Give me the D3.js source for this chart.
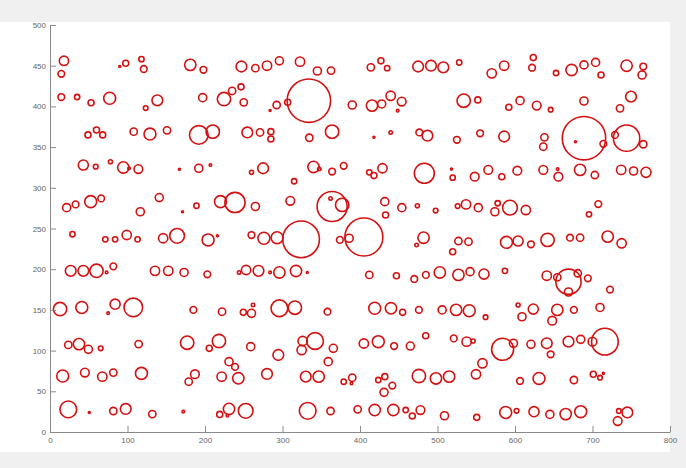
<!DOCTYPE html>
<html>
<head>
<meta charset="utf-8">
<script src="https://cdn.jsdelivr.net/npm/d3@7"></script>
<style>
html,body{margin:0;padding:0;background:#f0f0f0;}
svg{display:block;}
</style>
</head>
<body>
<svg id="chart" width="686" height="468"></svg>
<script>
// circle centres (x, y) and radii (x-axis units)
const cx = [
18,14.6,14.6,35,53,77,49,60,68,108,129,151,123.5,138.5,97.7,90,118,121,181,
198,247,265,280,296,322.6,345,362.6,197,224.5,235,246.5,250,292.5,284,306.7,334,390,192,210,254.6,271,285,285,334.6,364,
414,427,435,475,491.6,507.5,528,570,586,415.5,428,439.6,453.8,448.6,533.8,552,592,606.5,418,439.6,476.5,487,525,555,586,
623.6,622,653,673,689,704,711,744,765.5,764,628,646,689,735.5,749.7,638,636.5,689,678,714,744,729,765.5,
43,59,78,94.6,102,114,167,192,21.5,33,52.5,66,116.5,141,171,189,29,71.4,84,99,113,146,164,26.7,43,60,73,81.7,135.5,152.6,173,
207,260,275,315,340,347.5,364,379,220,238.7,265,310,364,362,377,204,216,260,276,293,324,405,374,386,203,244,253,269,284,296,317.4,332,
412,418,429,483,518,519.6,548,565.5,583,603,432,433,454,474,497.6,526,536.8,552.6,574,577.7,593.5,482,473,527,540,519.6,589,604,412,447,470,485,503,527,542,560,587,
636.5,656,655,684,703,737,753,769,614,695.5,707.5,620.6,642,671,684,719.6,737.6,641,669,654.6,681,669,694,722.6,
13,41,75,84,107.5,185,23.6,37.4,49.5,65.4,114.4,177,16.4,45,67.5,81.7,118,179,187,23.6,50.7,81.7,97.7,132,172,
222,249.5,260,262,296,316,358,205.5,218,259,294.6,326,324.7,342,365.6,405,231,238.7,221.5,243,280,330,346.7,359,379,390,389,219,231,229,252.5,332.5,362,397,
419,440,455,476,506,524,541,562,604,609,423.6,444,465,484.8,521,537.6,546,584,598,558,549.7,423.6,432,431,441.7,476,498,515,419,443,459,467.5,478,509,550.6,588,602,
623.6,654.6,648,676,709.7,620.6,641,646,669,684.8,700,716,606.5,631,676,701,709.7,714,624.5,645,665.4,684.8,732.5,734,745
];
const cy = [
456,440,411.5,411.5,404.5,410,365,371,365,369,366,370.6,398,407.5,453,449,458,446,451,
445,449,447,450,456,455,443.5,444,410.7,409,419,424,405,401.7,395,405,407,401.7,365,369,368,368,369,360,361.5,369,
448,456,447,449,450,448,454,440.6,450,401,403,413,406,394.7,407,408,399,407,362,368,368,364,359,367,363,
460,447.5,441,444.7,451,454,438.6,450,449,438.6,401,396,406.6,397.6,412,362,350.5,361,356.6,354,361,365,353.5,
328,326,332,325,324,323,322.7,324,275.6,279.6,283,287,270.6,288,270.6,278,243,236.7,236.7,242,236.7,238,241,198,198,198,196,203.5,198,198,196,
328,319,324,308,325.6,323,320,327,283,282,277,284,277,287,279,236,241,242,238,238.7,236.7,239.5,236,238,193.7,196,199,198,196,196,197.8,196,
319,315,324,317.8,323,312.5,313.6,322,313.6,321,283,266.6,275.6,278,272,277.6,279.6,275.6,270.6,281,275.6,238.7,229.7,234.6,233.8,221.5,233,234.6,193,192,188,193,196,193,197,194,198,
322,313.6,323,322,315.7,322,320.6,319,272.7,267.4,280,230.6,236,238.7,238.7,240,231.8,192,184.6,190,195,172,188.8,175,
151,153,146,157,153,150,107,108,101.6,102.8,108,109.7,68.8,73,68,73,72,61.8,71,27.8,24,25.8,28.3,22,25,
147.8,147,145.8,156,152,152.7,147.8,102.8,111.8,104.8,94.6,111.8,100.7,111.8,102.8,108.7,86.4,80,68,66,71.3,68,68,86.4,61.8,66.7,59.7,21.6,28.3,20,26,26,25.8,27.8,
152,152,147,150,150,150,149,141,156,141.6,111,105.6,105.6,118.3,115,111,111.8,101.6,109,84.4,70.9,63.9,68,48.7,57,68.8,65.8,68,27,27,27,19.7,27,20,18,24,26,
151,150,136.7,150,153,107.7,109,95.5,111,113.8,111,111,62.7,65.8,63.9,70.9,66.7,72,25,21.6,22,25,13.5,25.8,24
];
const cr = [
6.0,4.3,4.3,3.4,3.9,7.7,3.9,3.9,3.9,4.7,7.7,4.7,3.0,6.9,3.9,1.3,3.4,4.3,7.3,
4.3,6.9,4.7,6.0,5.2,6.0,5.2,4.7,5.2,8.6,4.7,3.9,4.7,4.7,1.3,3.9,28,5.2,12,8.6,6.9,4.7,3.9,3.9,4.7,8.6,
4.7,3.9,3.4,6.9,6.9,6.9,3.4,6.0,6.0,7.3,5.2,6.0,5.6,1.7,8.6,3.9,3.9,5.2,1.3,2.2,4.3,6.9,4.3,4.3,6.9,
3.9,4.3,3.4,7.3,5.2,5.2,3.9,7.3,4.3,5.2,5.6,3.0,5.2,4.7,6.9,4.7,4.7,28,1.3,4.3,17,4.3,4.7,
6.5,3.0,2.6,7.3,1.7,5.6,1.3,5.2,5.2,4.3,7.7,4.3,5.2,5.2,1.3,3.4,3.4,3.4,3.4,6.0,3.4,6.0,9.5,6.9,6.9,8.6,1.7,4.3,6.0,6.0,5.2,
1.7,2.6,6.9,3.4,7.3,2.2,4.3,4.3,7.7,13,5.2,5.6,19.4,2.2,8.6,7.7,1.3,4.3,7.7,7.7,23.7,24.5,4.3,5.2,4.3,2.2,6.0,6.9,1.7,7.3,7.3,1.3,
3.4,3.9,6.0,12.9,1.3,3.4,5.6,5.6,3.9,5.6,5.2,3.9,5.2,2.6,3.0,3.0,6.0,5.2,5.2,3.4,9.5,7.3,2.2,4.7,4.7,3.9,7.7,6.5,4.7,3.9,4.3,4.3,7.3,7.3,5.2,6.5,3.4,
5.6,5.6,1.7,7.3,4.7,6.0,5.2,6.5,6.0,3.4,4.3,4.3,8.6,4.3,4.7,7.3,6.0,6.0,16.3,4.7,4.7,5.2,4.3,4.3,
8.6,7.7,1.7,6.5,12,4.3,4.7,7.3,5.2,3.0,4.7,8.6,7.7,5.6,6.0,4.7,7.7,4.7,5.6,10.8,1.3,4.7,6.9,4.7,1.7,
4.7,3.9,5.2,2.2,10.8,8.6,4.3,3.9,8.6,5.2,6.9,6.0,6.0,10.8,5.2,6.0,5.2,4.3,6.0,7.3,6.9,6.9,7.3,5.2,3.4,4.7,1.7,3.9,7.3,1.7,9.5,10.8,4.7,4.7,
7.7,7.3,3.9,4.3,5.2,7.3,7.7,3.0,2.6,5.2,7.7,4.3,5.2,3.9,4.3,6.0,2.6,14.2,5.2,6.0,6.0,3.4,3.9,5.2,4.3,8.6,7.3,7.3,7.3,7.3,3.4,3.9,5.6,5.2,3.9,7.7,3.0,
6.5,7.3,5.6,4.3,5.2,5.2,6.9,4.3,6.9,5.2,5.6,17.2,4.3,7.7,4.7,3.9,3.0,1.3,6.5,5.2,7.3,7.7,5.6,3.0,6.9
];
const xTicks = [0,100,200,300,400,500,600,700,800];
const yTicks = [0,50,100,150,200,250,300,350,400,450,500];

const svg = d3.select("#chart");
const W = 686, H = 468;
const m = {l:50, r:16, t:25, b:36};

const x = d3.scaleLinear().domain([0,800]).range([m.l, W-m.r]);
const y = d3.scaleLinear().domain([0,500]).range([H-m.b, m.t]);
const rs = d3.scaleLinear().domain([0,800]).range([0, W-m.r-m.l]);

// white figure area
svg.append("rect").attr("x",0).attr("y",22).attr("width",x(800)).attr("height",452-22).attr("fill","#ffffff");

const data = cx.map((v,i)=>({x:v,y:cy[i],r:cr[i]}));

svg.append("g").selectAll("circle").data(data).enter().append("circle")
  .attr("cx",d=>x(d.x)).attr("cy",d=>y(d.y)).attr("r",d=>rs(d.r))
  .attr("fill","none").attr("stroke","#d41010").attr("stroke-width",1.6);

const axColor = "#8a8a8a";
const gx = svg.append("g").attr("transform",`translate(0,${y(0)})`)
  .call(d3.axisBottom(x).tickValues(xTicks).tickSizeInner(-6).tickSizeOuter(0).tickPadding(5));
const gy = svg.append("g").attr("transform",`translate(${x(0)},0)`)
  .call(d3.axisLeft(y).tickValues(yTicks).tickSizeInner(-6).tickSizeOuter(0).tickPadding(4));
[gx,gy].forEach(g=>{
  g.select(".domain").attr("stroke",axColor);
  g.selectAll(".tick line").attr("stroke",axColor);
  g.selectAll(".tick text").attr("fill","#666").attr("font-size","8px")
   .attr("font-family","'Liberation Sans Narrow','Liberation Sans',Arial,sans-serif");
});
</script>
</body>
</html>
